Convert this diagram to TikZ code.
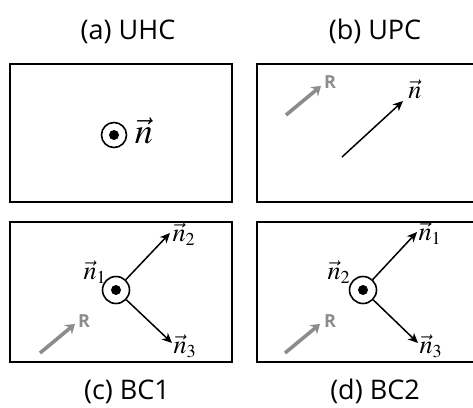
\documentclass[tikz,border=0pt]{standalone}
\usepackage{mathptmx}
\usepackage[no-math]{fontspec}
\setsansfont{Open Sans}
\usepackage{tikz}
\usetikzlibrary{arrows.meta}

\definecolor{rgray}{RGB}{140,140,140}

\tikzset{
  panel/.style={line width=1.6pt},
  title/.style={font=\sffamily\fontsize{27}{32}\selectfont, anchor=base},
  outof/.style={circle, draw, line width=1.6pt, minimum size=#1, inner sep=0pt,
    path picture={\fill (path picture bounding box.center) circle (5pt);}},
  vecarrow/.style={line width=1.5pt, -{Stealth[length=10pt, width=9pt, inset=3pt]}},
  rarrow/.style={line width=3.6pt, draw=rgray, -{Stealth[length=9pt, width=12pt, inset=3pt]}},
  rlabel/.style={text=rgray, font=\sffamily\bfseries\fontsize{18}{20}\selectfont},
  nlabel/.style={font=\Huge, inner sep=0pt, scale=#1, transform shape},
  nlabel/.default=1.05
}

\begin{document}
\begin{tikzpicture}[x=1pt, y=-1pt]
\useasboundingbox (0,0) rectangle (473,407);
% panel frames
\draw[panel] (10,64) rectangle (232,202);
\draw[panel] (257,64) rectangle (479,202);
\draw[panel] (10,222) rectangle (232,362);
\draw[panel] (257,222) rectangle (479,362);
% titles
\node[title] (ta) at (128,39) {(a) UHC};
\node[title] (tb) at (375,39) {(b) UPC};
\node[title] (tc) at (127,399) {(c) BC1};
\node[title] (td) at (375,399) {(d) BC2};

% (a)
\node[outof=25pt] (oa) at (114,135) {};
\node[nlabel=1.45] (na) at (144,131) {$\vec{n}$};

% (b)
\coordinate (rb0) at (286,115);
\coordinate (rb1) at (321,86);
\coordinate (nb0) at (342,157);
\coordinate (nb1) at (403,101);
\draw[rarrow] (rb0) -- (rb1);
\draw[vecarrow] (nb0) -- (nb1);
\node[rlabel] (rb) at (330,82) {R};
\node[nlabel] (nb) at (415,89) {$\vec{n}$};

% (c)
\node[outof=27pt] (oc) at (116,290) {};
\coordinate (c2) at (170,233);
\coordinate (c3) at (172,343);
\draw[vecarrow] (oc) -- (c2);
\draw[vecarrow] (oc) -- (c3);
\node[nlabel] (nc1) at (95,272) {$\vec{n}_1$};
\node[nlabel] (nc2) at (184,234) {$\vec{n}_2$};
\node[nlabel] (nc3) at (185,346) {$\vec{n}_3$};
\coordinate (rc0) at (40,353);
\coordinate (rc1) at (75,324);
\draw[rarrow] (rc0) -- (rc1);
\node[rlabel] (rc) at (84,321) {R};

% (d)
\node[outof=27pt] (od) at (363,290) {};
\coordinate (d1) at (417,232);
\coordinate (d3) at (418,343);
\draw[vecarrow] (od) -- (d1);
\draw[vecarrow] (od) -- (d3);
\node[nlabel] (nd2) at (339,272) {$\vec{n}_2$};
\node[nlabel] (nd1) at (430,233) {$\vec{n}_1$};
\node[nlabel] (nd3) at (431,346) {$\vec{n}_3$};
\coordinate (rd0) at (285,353);
\coordinate (rd1) at (320,324);
\draw[rarrow] (rd0) -- (rd1);
\node[rlabel] (rd) at (330,321) {R};
\end{tikzpicture}
\end{document}
